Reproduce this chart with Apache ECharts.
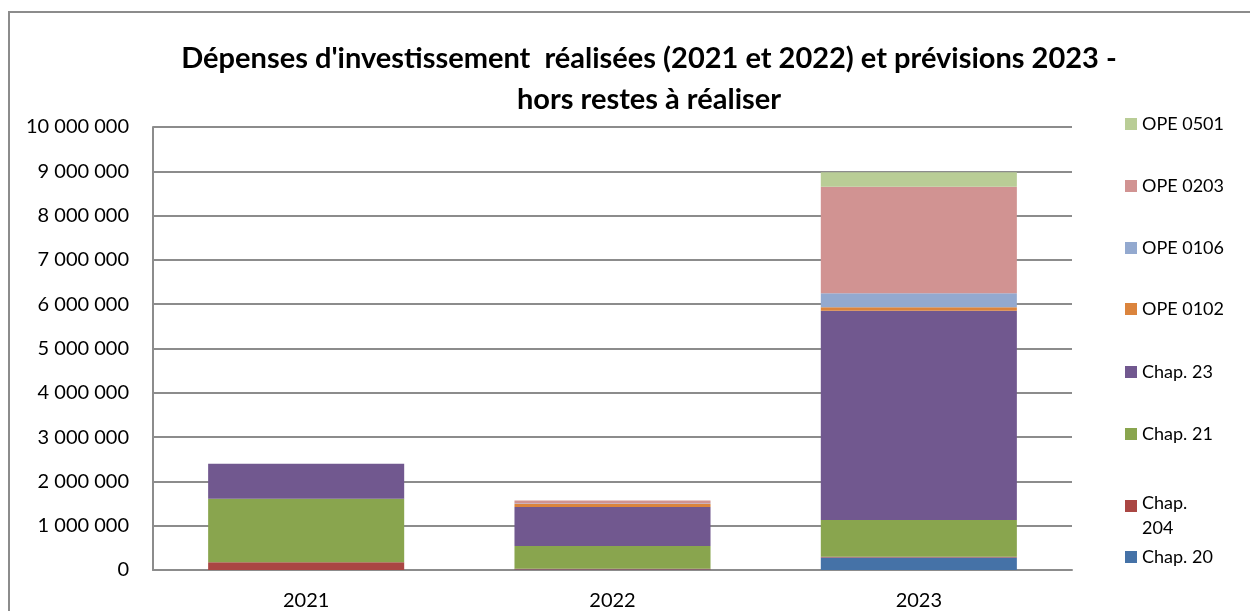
<!DOCTYPE html>
<html>
<head>
<meta charset="utf-8">
<title>Dépenses d'investissement</title>
<script src="https://cdn.jsdelivr.net/npm/echarts@6/dist/echarts.min.js"></script>
<style>
body{margin:0;background:#fff;}
#cadre{position:absolute;left:8px;top:11px;width:1300px;height:700px;border:2px solid #8c8c8c;box-sizing:border-box;}
#main{position:absolute;left:0;top:0;width:1250px;height:611px;}
</style>
</head>
<body>
<div id="cadre"></div>
<div id="main"></div>
<script>
// données
var annees = ['2021', '2022', '2023'];
var chap20   = [0, 10000, 280000];
var chap204  = [175000, 20000, 20000];
var chap21   = [1435000, 510000, 830000];
var chap23   = [790000, 880000, 4720000];
var ope0102  = [0, 70000, 80000];
var ope0106  = [0, 10000, 320000];
var ope0203  = [0, 70000, 2400000];
var ope0501  = [0, 0, 330000];

var noms = ['Chap. 20', 'Chap. 204', 'Chap. 21', 'Chap. 23', 'OPE 0102', 'OPE 0106', 'OPE 0203', 'OPE 0501'];
var valeurs = [chap20, chap204, chap21, chap23, ope0102, ope0106, ope0203, ope0501];
var couleurs = ['#4572A7', '#AA4643', '#89A54E', '#71588F', '#DB843D', '#93A9CF', '#D19392', '#B9CD96'];

var police = 'Lato, "Open Sans", sans-serif';

function milliers(v){
	return String(v).replace(/\B(?=(\d{3})+(?!\d))/g, ' ');
}

var series = [];
for (var i = 0; i < noms.length; i++) {
	series.push({
		name: noms[i],
		type: 'bar',
		stack: 'total',
		barWidth: '64%',
		itemStyle: { color: couleurs[i] },
		data: valeurs[i]
	});
}

// une légende par entrée (ordre inverse, comme Excel)
var centres = [124, 186, 248, 309, 372, 434, 497, 557];
var legendes = [];
for (var j = 0; j < noms.length; j++) {
	var k = noms.length - 1 - j;
	var l = {
		data: [noms[k]],
		left: 1120,
		top: centres[j] - 10 - 5,
		padding: 5,
		itemWidth: 12,
		itemHeight: 12,
		itemGap: 5,
		selectedMode: false,
		icon: 'rect',
		textStyle: { fontFamily: police, fontSize: 18, color: '#000', lineHeight: 20 }
	};
	if (noms[k] == 'Chap. 204') {
		// carré aligné sur la première ligne du texte
		l.icon = 'path://M0,0L12,0L12,12L0,12Z M0,32';
		l.itemHeight = 32;
		l.formatter = function(n){ return 'Chap.\n204'; };
		l.textStyle.lineHeight = 25;
		l.top = centres[j] - 6 - 5;
	}
	legendes.push(l);
}

var myChart = echarts.init(document.getElementById('main'));
var option = {
	animation: false,
	title: {
		text: "Dépenses d'investissement  réalisées (2021 et 2022) et prévisions 2023 -\nhors restes à réaliser",
		left: 644,
		textAlign: 'center',
		top: 33,
		textStyle: { fontFamily: police, fontSize: 29, fontWeight: 'bold', color: '#000', lineHeight: 41 }
	},
	legend: legendes,
	grid: { left: 153, right: 178, top: 127, bottom: 41 },
	xAxis: {
		type: 'category',
		data: annees,
		axisTick: { show: false },
		axisLine: { lineStyle: { color: '#8c8c8c', width: 2 } },
		axisLabel: { fontFamily: police, fontSize: 20, color: '#000', margin: 21 }
	},
	yAxis: {
		type: 'value',
		min: 0,
		max: 10000000,
		interval: 1000000,
		axisLine: { show: true, lineStyle: { color: '#8c8c8c', width: 2 } },
		axisTick: { show: false },
		splitLine: { lineStyle: { color: '#8c8c8c', width: 2 } },
		axisLabel: { fontFamily: police, fontSize: 20, color: '#000', margin: 24, formatter: milliers }
	},
	series: series
};
myChart.setOption(option);
</script>
</body>
</html>
